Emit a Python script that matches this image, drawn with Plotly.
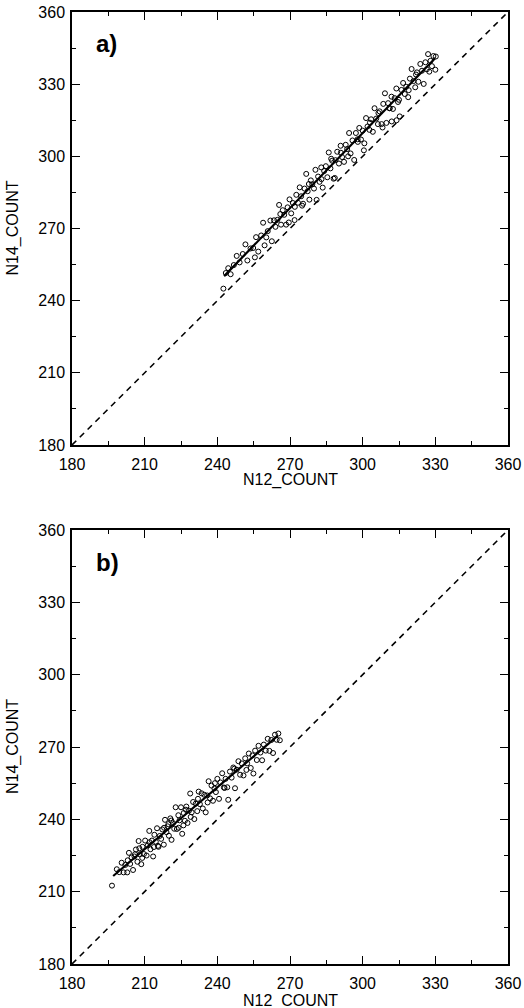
import plotly.graph_objects as go

# ---------------- data ----------------
# panel a) scatter
a_x = [242.5, 243.5, 244.5, 245.5, 246.8, 248.0, 249.2, 250.5, 251.6, 252.4, 253.7, 254.8, 256.0, 256.9, 258.1,
       258.9, 260.2, 260.8, 261.9, 262.5, 263.4, 264.0, 264.8, 265.5, 266.3, 267.0, 267.6, 268.4, 269.0, 269.8,
       270.5, 271.2, 271.9, 272.6, 273.3, 274.0, 274.6, 275.4, 276.0, 276.7, 277.3, 278.0, 278.6, 279.2, 279.9,
       280.5, 281.0, 281.6, 282.2, 282.9, 283.5, 284.1, 284.8, 285.4, 286.0, 286.7, 287.4, 288.0, 288.8, 289.5,
       290.2, 290.9, 291.5, 292.3, 293.0, 293.6, 294.4, 295.0, 295.8, 296.5, 297.2, 297.9, 298.6, 299.3, 300.0,
       300.7, 301.4, 302.0, 302.8, 303.5, 304.2, 304.9, 305.6, 306.3, 307.0, 307.8, 308.5, 309.2, 309.8, 310.5,
       311.2, 311.9, 312.5, 313.2, 313.9, 314.6, 315.3, 316.0, 316.7, 317.4, 318.0, 318.8, 319.5, 320.2, 321.0,
       321.7, 322.4, 323.0, 323.8, 324.5, 325.2, 325.9, 326.5, 327.0, 327.5, 328.0, 328.6, 329.2, 330.0, 330.2,
       266.0, 272.0, 277.8, 283.0, 287.0, 291.0, 294.0, 298.0, 303.0, 306.5, 311.0, 315.0, 319.0, 322.0, 300.5,
       312.0, 288.5, 275.0, 269.5, 259.5, 255.5, 314.0, 308.2]
a_y = [245.0, 251.5, 253.5, 251.0, 254.8, 258.6, 255.9, 259.4, 263.4, 256.7, 261.7, 261.9, 266.4, 260.4, 267.1,
       272.4, 266.3, 268.9, 273.3, 264.7, 273.4, 270.7, 273.6, 279.8, 271.6, 277.6, 275.7, 271.6, 278.8, 282.1,
       276.3, 280.6, 273.5, 284.0, 280.7, 287.1, 283.4, 280.3, 286.6, 292.7, 285.5, 282.0, 290.0, 288.4, 286.6,
       294.4, 281.9, 291.6, 289.4, 295.4, 287.0, 293.9, 295.9, 291.3, 301.6, 295.0, 298.2, 290.7, 298.4, 301.9,
       297.0, 304.4, 299.7, 297.7, 304.8, 303.0, 309.7, 301.2, 306.6, 298.5, 309.7, 307.1, 311.8, 307.0, 310.7,
       305.4, 315.9, 312.4, 311.0, 315.4, 310.2, 320.0, 315.7, 313.4, 318.7, 313.4, 321.8, 326.2, 313.9, 322.1,
       320.0, 324.8, 319.7, 324.2, 328.2, 322.6, 316.6, 327.6, 330.5, 325.9, 328.9, 324.6, 332.3, 336.3, 331.3,
       328.7, 334.9, 331.0, 338.4, 335.6, 330.1, 339.1, 336.2, 342.5, 335.2, 339.7, 337.5, 341.7, 336.0, 341.5,
       276.0, 279.0, 288.5, 290.5, 299.0, 301.5, 300.0, 306.0, 314.0, 318.0, 320.0, 323.5, 327.5, 334.0, 302.5,
       314.5, 291.0, 279.5, 272.5, 263.0, 258.0, 315.0, 312.0]
# panel a) fitted line
a_fit_x = [242.8, 329.9]
a_fit_y = [250.2, 340.8]

# panel b) scatter
b_x = [196.5, 198.5, 199.5, 200.5, 201.3, 202.0, 202.8, 203.5, 204.0, 204.6, 205.2, 205.8, 206.4, 207.0, 207.5,
       208.0, 208.6, 209.1, 209.7, 210.2, 210.8, 211.3, 211.9, 212.4, 213.0, 213.5, 214.0, 214.6, 215.1, 215.7,
       216.2, 216.8, 217.3, 217.9, 218.4, 219.0, 219.5, 220.0, 220.6, 221.1, 221.7, 222.2, 222.8, 223.3, 223.9,
       224.4, 225.0, 225.5, 226.1, 226.6, 227.2, 227.7, 228.3, 228.8, 229.4, 230.0, 230.5, 231.1, 231.7, 232.3,
       232.8, 233.5, 234.0, 234.6, 235.2, 235.8, 236.4, 237.0, 237.6, 238.2, 238.8, 239.4, 240.0, 240.7, 241.3,
       242.0, 242.7, 243.4, 244.1, 244.5, 245.2, 245.9, 246.6, 247.3, 248.0, 248.7, 249.4, 250.1, 250.8, 251.5,
       252.3, 253.0, 253.8, 254.5, 254.9, 255.6, 256.3, 257.0, 257.8, 258.5, 259.2, 260.0, 260.8, 261.5, 262.3,
       263.0, 263.8, 264.5, 265.2, 265.8,
       206.0, 209.0, 212.0, 215.5, 218.0, 221.0, 224.0, 227.0, 229.0, 232.0, 236.0, 239.0, 243.0, 247.0, 252.0,
       203.0, 207.8, 213.8, 219.8, 226.0]
b_y = [212.5, 219.3, 218.1, 222.0, 218.0, 221.1, 218.0, 226.1, 221.5, 224.2, 219.0, 224.6, 227.5, 222.4, 231.0,
       225.5, 221.4, 228.6, 225.6, 231.2, 225.0, 229.2, 235.2, 227.6, 231.2, 224.6, 233.6, 230.7, 236.3, 228.6,
       233.1, 231.9, 235.8, 229.5, 239.8, 234.7, 237.1, 233.2, 240.4, 231.5, 238.4, 236.1, 245.0, 236.0, 241.7,
       239.6, 245.0, 234.0, 242.6, 239.4, 245.3, 238.5, 243.6, 250.7, 242.9, 247.2, 240.1, 246.5, 243.4, 251.5,
       246.3, 250.8, 244.5, 250.2, 242.9, 249.9, 255.8, 248.7, 254.0, 247.7, 252.8, 251.3, 256.8, 248.5, 255.3,
       259.1, 253.2, 256.8, 253.3, 248.1, 259.8, 257.3, 261.5, 252.9, 260.6, 264.1, 258.5, 263.2, 258.2, 265.3,
       263.2, 267.3, 261.3, 266.5, 259.0, 268.5, 264.6, 270.5, 267.7, 264.5, 271.0, 268.5, 273.4, 268.4, 272.9,
       267.5, 275.1, 273.0, 275.6, 272.8,
       225.5, 224.0, 230.5, 229.0, 236.5, 239.5, 236.5, 244.0, 241.0, 248.5, 247.0, 255.0, 253.0, 261.0, 260.5,
       223.0, 228.0, 228.5, 238.0, 237.5]
# panel b) fitted line
b_fit_x = [197.0, 264.9]
b_fit_y = [216.5, 274.6]

# 1:1 reference line and axis ticks
ref_x = [180, 360]
ref_y = [180, 360]
tick_vals = [180, 210, 240, 270, 300, 330, 360]
tick_text = ["180", "210", "240", "270", "300", "330", "360"]
x_title = "N12_COUNT"
y_title = "N14_COUNT"
panel_labels = ["a)", "b)"]

# ---------------- layout geometry ----------------
W, H = 524, 1008
xl, xr = 72, 508
panels = [(12, 445), (530, 964)]   # top, bottom pixel of each panel
xtitle_off = [35, 37]

FONT = "Liberation Sans, Arial, Helvetica, sans-serif"

fig = go.Figure()

data_sets = [(a_x, a_y, a_fit_x, a_fit_y), (b_x, b_y, b_fit_x, b_fit_y)]
for i, (sx, sy, fx, fy) in enumerate(data_sets):
    xa = "x" if i == 0 else "x2"
    ya = "y" if i == 0 else "y2"
    fig.add_trace(go.Scatter(x=ref_x, y=ref_y, mode="lines",
                             line=dict(color="black", width=1.6, dash="6px,5px"),
                             xaxis=xa, yaxis=ya, showlegend=False, hoverinfo="skip"))
    fig.add_trace(go.Scatter(x=sx, y=sy, mode="markers",
                             marker=dict(symbol="circle-open", size=5, color="black",
                                         line=dict(width=1, color="black")),
                             xaxis=xa, yaxis=ya, showlegend=False))
    fig.add_trace(go.Scatter(x=fx, y=fy, mode="lines",
                             line=dict(color="black", width=2.2),
                             xaxis=xa, yaxis=ya, showlegend=False, hoverinfo="skip"))

def axis_common():
    return dict(
        range=[180, 360], tickmode="array", tickvals=tick_vals, ticktext=tick_text,
        ticks="inside", ticklen=8, tickwidth=1.2, tickcolor="black",
        minor=dict(ticks="inside", ticklen=4, tickwidth=1.2, tickcolor="black", dtick=15, tick0=180,
                   showgrid=False),
        showline=True, linecolor="black", linewidth=1.5, mirror="ticks",
        showgrid=False, zeroline=False,
        tickfont=dict(family=FONT, size=16, color="black"),
        automargin=False, fixedrange=True,
    )

annotations = []
for i, (top, bot) in enumerate(panels):
    ydom = [1 - bot / H, 1 - top / H]
    xdom = [xl / W, xr / W]
    xk = "xaxis" if i == 0 else "xaxis2"
    yk = "yaxis" if i == 0 else "yaxis2"
    xax = axis_common()
    xax.update(domain=xdom, anchor="y" if i == 0 else "y2", ticklabelstandoff=4)
    yax = axis_common()
    yax.update(domain=ydom, anchor="x" if i == 0 else "x2", ticklabelstandoff=2)
    fig.update_layout(**{xk: xax, yk: yax})
    annotations.append(dict(text=x_title, x=(xl + xr) / 2 / W, y=1 - (bot + xtitle_off[i]) / H,
                            xref="paper", yref="paper", showarrow=False,
                            font=dict(family=FONT, size=16, color="black"),
                            xanchor="center", yanchor="middle"))
    annotations.append(dict(text=y_title, x=13 / W, y=1 - (top + bot) / 2 / H,
                            xref="paper", yref="paper", showarrow=False, textangle=-90,
                            font=dict(family=FONT, size=16, color="black"),
                            xanchor="center", yanchor="middle"))
    annotations.append(dict(text="<b>" + panel_labels[i] + "</b>", x=94 / W, y=1 - (top + 32) / H,
                            xref="paper", yref="paper", showarrow=False,
                            font=dict(family=FONT, size=24, color="black"),
                            xanchor="left", yanchor="middle"))

fig.update_layout(
    width=W, height=H,
    margin=dict(l=0, r=0, t=0, b=0),
    paper_bgcolor="white", plot_bgcolor="white",
    annotations=annotations,
    showlegend=False,
)

fig.write_html("out.html", config={"displayModeBar": False},
               post_script="document.body.style.margin='0px';document.body.style.overflow='hidden';")
